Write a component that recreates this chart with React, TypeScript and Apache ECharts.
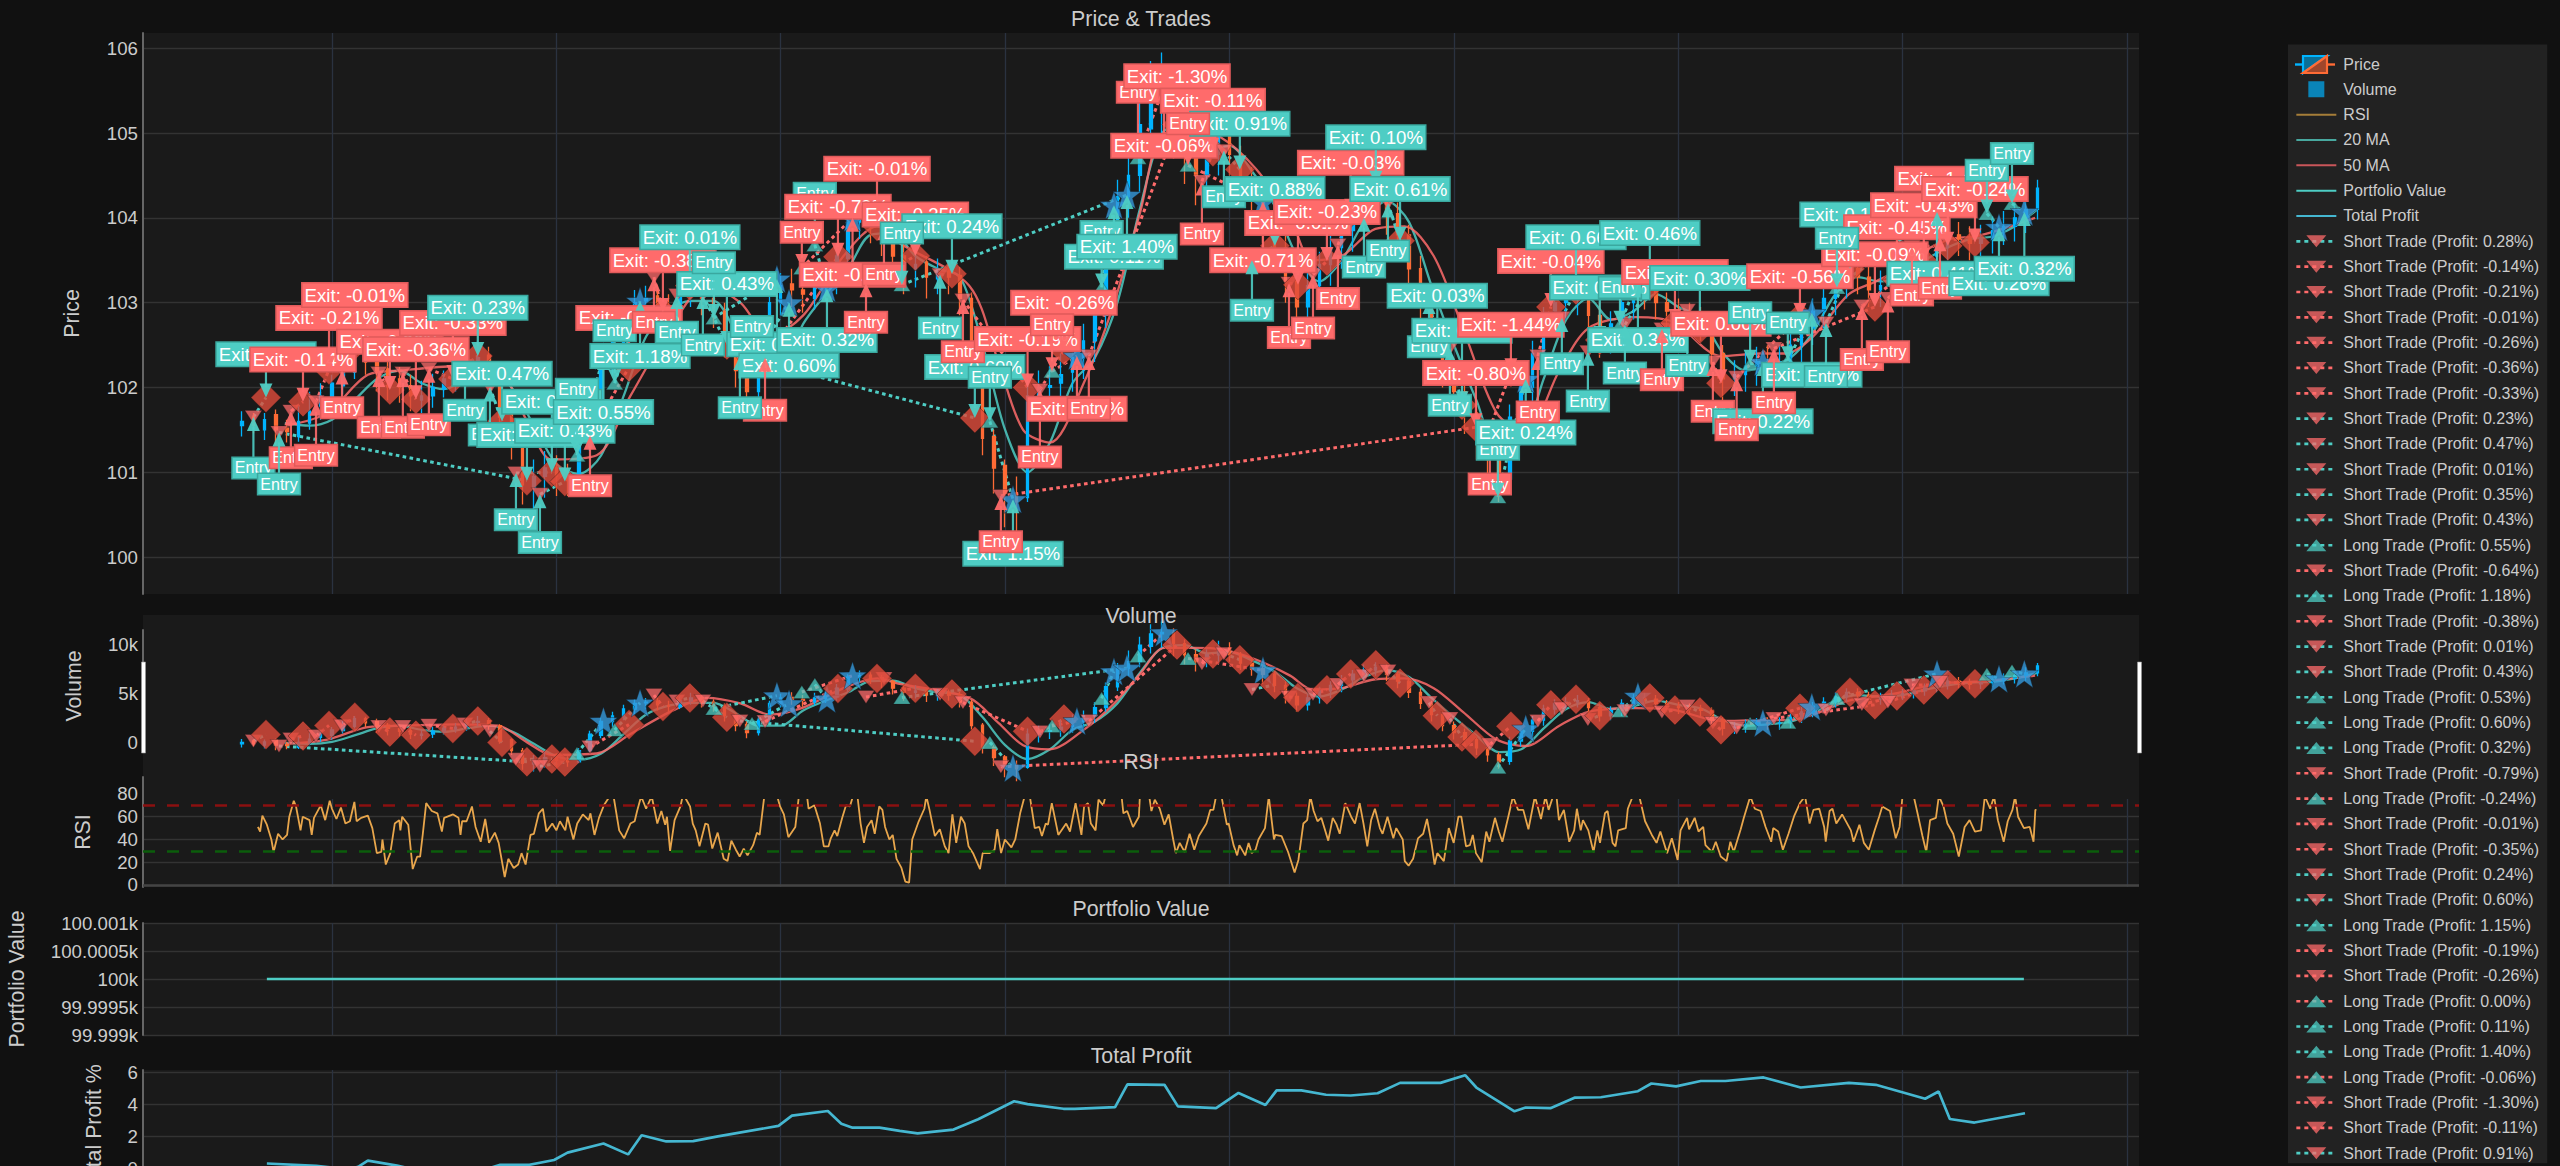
import React, { useEffect, useRef } from "react";
import * as echarts from "echarts";

const FONT = "Liberation Sans";
const TEAL = "#4ecdc4";
const RED = "#ff6b6b";

const xTicks = [0, 100, 200, 300, 400, 500, 600, 700, 800];
const priceTicks = [100, 101, 102, 103, 104, 105, 106];
const rsiTicks = [0, 20, 40, 60, 80];
const portfolioTicks = [99999, 99999.5, 100000, 100000.5, 100001];
const profitTicks = [0, 2, 4, 6];

// x (bar), open, close, low, high
const candles: number[][] = [
[-40,101.55,101.6,101.42,101.72],[-35,101.65,101.55,101.46,101.7],[-30,101.5,101.62,101.38,101.7],[-25,101.68,101.5,101.32,101.74],[-20,101.52,101.48,101.35,101.62],
[-15,101.42,101.6,101.36,101.78],[-10,101.58,101.72,101.5,101.95],[-5,101.78,101.9,101.62,102.05],[0,101.85,102.05,101.7,102.15],[5,102.02,102.2,101.92,102.36],
[10,102.18,102.45,102.1,102.55],[15,102.45,102.3,102.15,102.52],[20,102.35,102.2,101.95,102.45],[25,102.22,102.1,101.85,102.3],[30,102.1,102.0,101.82,102.24],
[35,102.02,101.9,101.72,102.15],[40,101.85,101.9,101.7,102.08],[45,101.9,102.0,101.76,102.16],[50,101.98,102.1,101.88,102.2],[55,102.08,102.15,101.95,102.3],
[60,102.12,102.3,102.02,102.45],[65,102.32,102.35,102.2,102.55],[70,102.38,102.2,102.05,102.48],[75,102.2,101.65,101.55,102.25],[80,101.7,101.3,101.15,101.75],
[85,101.3,100.85,100.62,101.4],[90,100.82,100.95,100.55,101.15],[95,100.95,101.05,100.7,101.25],[100,101.05,100.95,100.72,101.2],[105,100.95,100.9,100.72,101.1],
[110,100.9,101.3,100.85,101.4],[115,101.3,101.9,101.25,102.02],[120,101.85,102.35,101.75,102.48],[125,102.35,102.55,102.15,102.7],[130,102.52,102.8,102.4,102.95],
[135,102.8,103.0,102.6,103.15],[140,103.02,103.05,102.8,103.2],[145,103.08,102.95,102.75,103.2],[150,102.92,102.9,102.7,103.1],[155,102.88,103.1,102.8,103.25],
[160,103.08,103.2,102.95,103.38],[165,103.22,103.05,102.85,103.3],[170,103.05,102.9,102.7,103.15],[175,102.9,102.55,102.35,103.0],[180,102.55,102.2,102.0,102.65],
[185,102.25,101.95,101.75,102.35],[190,101.95,102.4,101.85,102.55],[195,102.42,103.0,102.3,103.1],[200,103.0,103.2,102.85,103.35],[205,103.22,103.15,102.95,103.4],
[210,103.15,103.1,102.88,103.3],[215,103.05,103.2,102.92,103.38],[220,103.18,103.2,103.02,103.42],[225,103.22,103.55,103.1,103.7],[230,103.52,103.95,103.4,104.05],
[235,103.95,104.0,103.75,104.18],[240,104.02,103.9,103.7,104.12],[245,103.92,103.8,103.55,104.02],[250,103.8,103.55,103.32,103.85],[255,103.55,103.4,103.1,103.7],
[260,103.4,103.45,103.18,103.65],[265,103.48,103.3,103.05,103.55],[270,103.28,103.35,103.1,103.52],[275,103.38,103.3,103.1,103.5],[280,103.32,103.05,102.85,103.42],
[285,103.05,102.2,102.05,103.12],[290,102.22,101.4,101.2,102.3],[295,101.42,101.05,100.75,101.5],[300,101.08,100.75,100.35,101.15],[305,100.72,100.65,100.2,100.95],
[310,100.7,101.9,100.65,102.1],[315,101.9,102.0,101.6,102.2],[320,102.0,102.02,101.72,102.25],[325,102.05,102.15,101.8,102.4],[330,102.18,102.35,101.95,102.6],
[335,102.35,102.55,102.1,102.75],[340,102.55,102.85,102.3,103.05],[345,102.85,103.6,102.7,103.75],[350,103.6,104.25,103.45,104.45],[355,104.25,104.5,104.0,104.9],
[360,104.5,105.1,104.3,105.4],[365,105.05,105.5,104.8,105.85],[370,105.5,105.55,105.0,105.95],[375,105.55,105.15,104.7,105.7],[380,105.15,104.75,104.4,105.3],
[385,104.75,104.5,104.15,104.95],[390,104.5,104.75,104.3,104.95],[395,104.75,105.0,104.5,105.25],[400,105.0,104.75,104.5,105.2],[405,104.75,104.45,104.2,104.85],
[410,104.45,104.25,104.0,104.6],[415,104.25,104.05,103.7,104.4],[420,104.05,103.65,103.4,104.15],[425,103.65,103.25,103.0,103.8],[430,103.25,102.95,102.7,103.4],
[435,102.95,103.2,102.75,103.35],[440,103.2,103.45,103.0,103.6],[445,103.45,103.65,103.2,103.8],[450,103.65,103.85,103.4,104.02],[455,103.85,104.05,103.6,104.2],
[460,104.05,104.2,103.85,104.4],[465,104.2,104.3,104.0,104.48],[470,104.3,104.05,103.8,104.42],[475,104.05,103.8,103.55,104.18],[480,103.8,103.4,103.2,103.92],
[485,103.4,103.0,102.8,103.55],[490,103.0,102.6,102.35,103.1],[495,102.6,102.2,102.0,102.72],[500,102.2,101.95,101.7,102.35],[505,101.95,101.7,101.45,102.1],
[510,101.7,101.4,101.15,101.85],[515,101.4,101.15,100.9,101.5],[520,101.15,100.9,100.65,101.25],[525,100.92,101.65,100.8,101.8],[530,101.65,102.0,101.45,102.15],
[535,102.0,102.4,101.8,102.55],[540,102.4,102.8,102.2,102.95],[545,102.8,103.0,102.6,103.15],[550,103.0,103.05,102.8,103.22],[555,103.05,103.1,102.85,103.3],
[560,103.1,102.85,102.6,103.2],[565,102.85,102.55,102.35,103.0],[570,102.55,102.75,102.4,102.9],[575,102.75,103.0,102.55,103.15],[580,103.0,103.2,102.8,103.35],
[585,103.2,103.15,102.92,103.38],[590,103.15,103.0,102.8,103.3],[595,103.0,102.9,102.7,103.12],[600,102.9,102.85,102.62,103.05],[605,102.85,102.8,102.6,103.0],
[610,102.8,102.75,102.55,102.95],[615,102.75,102.4,102.2,102.85],[620,102.4,102.1,101.85,102.5],[625,102.1,102.15,101.9,102.32],[630,102.15,102.25,101.95,102.42],
[635,102.25,102.3,102.02,102.48],[640,102.3,102.28,102.05,102.5],[645,102.28,102.3,102.05,102.5],[650,102.3,102.5,102.12,102.65],[655,102.5,102.7,102.3,102.88],
[660,102.7,102.9,102.5,103.05],[665,102.9,103.05,102.7,103.22],[670,103.05,103.25,102.85,103.4],[675,103.25,103.4,103.05,103.55],[680,103.4,103.3,103.1,103.55],
[685,103.3,103.15,102.95,103.42],[690,103.15,103.2,102.95,103.38],[695,103.2,103.3,103.02,103.48],[700,103.3,103.35,103.12,103.52],[705,103.35,103.45,103.18,103.62],
[710,103.45,103.55,103.28,103.72],[715,103.55,103.65,103.4,103.82],[720,103.65,103.8,103.5,103.95],[725,103.8,103.75,103.55,103.95],[730,103.75,103.7,103.5,103.9],
[735,103.7,103.75,103.52,103.92],[740,103.75,103.85,103.58,104.02],[745,103.85,103.9,103.68,104.08],[750,103.9,104.0,103.72,104.15],[755,104.0,104.1,103.82,104.3],
[760,104.1,104.35,103.98,104.45],
];

const ma20: number[][] = [
[-21,101.58],[-10,101.55],[0,101.62],[10,101.85],[20,102.1],[30,102.2],[40,102.05],[50,101.98],[60,102.1],[70,102.2],[80,102.0],[90,101.55],[100,101.1],[110,100.98],[120,101.2],[130,101.9],[140,102.6],[150,102.92],[160,103.02],[170,103.02],[180,102.65],[190,102.2],[200,102.2],[210,102.75],[220,103.1],[230,103.4],[240,103.8],[250,103.82],[260,103.55],[270,103.4],[280,103.3],[290,102.5],[300,101.5],[310,101.0],[320,101.35],[330,102.05],[340,102.35],[350,103.0],[360,104.1],[370,105.0],[380,105.1],[390,104.8],[400,104.85],[410,104.55],[420,104.15],[430,103.55],[440,103.25],[450,103.5],[460,103.95],[470,104.2],[480,103.95],[490,103.2],[500,102.5],[510,101.85],[520,101.25],[530,101.35],[540,102.1],[550,102.8],[560,103.05],[570,102.8],[580,102.9],[590,103.1],[600,102.95],[610,102.82],[620,102.4],[630,102.2],[640,102.25],[650,102.35],[660,102.65],[670,103.1],[680,103.3],[690,103.25],[700,103.3],[710,103.5],[720,103.65],[730,103.75],[740,103.78],[750,103.9],[760,104.1],
];

const ma50: number[][] = [
[-20,101.55],[-2,101.7],[16,102.15],[31,102.2],[55,102.25],[74,102.2],[87,101.6],[98,101.15],[118,101.2],[133,101.9],[152,102.75],[167,103.2],[182,103.0],[195,102.6],[210,102.85],[228,103.55],[243,103.9],[253,103.7],[284,103.2],[297,102.3],[308,101.5],[320,101.35],[335,102.05],[348,102.95],[360,104.05],[371,105.0],[384,105.0],[396,104.95],[412,104.57],[427,104.0],[437,103.5],[450,103.55],[465,103.87],[478,103.9],[491,103.55],[504,102.7],[519,101.7],[532,101.47],[547,102.2],[560,102.7],[581,102.83],[598,102.77],[619,102.37],[637,102.4],[648,102.4],[660,102.6],[676,103.1],[688,103.25],[699,103.4],[709,103.6],[721,103.75],[732,103.78],[742,103.85],[759,104.0],
];

// bar, RSI
const rsi: number[][] = [
[-33,51],[-32,47],[-31,61],[-29,53],[-27,40],[-26,29],[-24,45],[-22,40],[-20,44],[-19,60],[-17,74],[-16,69],[-14,48],[-13,60],[-10,57],[-9,44],[-8,59],[-5,70],[-3,57],[-1,74],[0,67],[2,58],[4,68],[6,54],[8,56],[10,73],[11,56],[13,59],[16,61],[18,50],[20,28],[22,29],[22.5,40],[24,18],[26,28],[28,54],[30,57],[30.5,48],[31.3,60],[34,53],[36,14],[38,25],[39.3,25],[40.5,45],[42,72],[44.5,65],[47,63],[49,47],[50,59],[54,62],[56.4,59],[57.3,44],[58,56],[60,56],[62.4,69],[64,51],[66.3,38],[68.3,58],[70,37],[72.6,46],[74.3,37],[77,7],[78.6,23],[81,15],[83,18],[84.5,28],[86.3,18],[88.5,44],[90,45],[92.2,63],[94,67],[95.6,47],[98.2,54],[100,48],[101.6,56],[104,48],[105,60],[107.6,40],[109.3,54],[111.8,62],[114.4,57],[115.2,63],[117,44],[119,59],[121.2,70],[123.8,78],[125.5,78],[128,48],[130.2,41],[133,54],[134.9,56],[136,65],[137.8,78],[140,67],[142.5,78],[145,54],[146.8,65],[148.5,53],[149.3,60],[150.7,30],[152.7,57],[155.3,69],[156.5,80],[159.6,69],[160.8,54],[162.1,48],[163.8,34],[166.4,54],[167.6,53],[169.5,32],[171.9,46],[174.6,23],[176.3,21],[178,39],[180,31],[181.7,25],[183.5,32],[185.2,26],[187.7,35],[189.4,46],[190.6,44],[192.8,80],[194,84],[197,88],[199.7,69],[201.4,62],[203.4,42],[206.5,51],[208.2,80],[210.2,82],[211.6,80],[212.4,67],[215,70],[217.5,54],[219.2,34],[221.3,34],[222.3,41],[224,48],[225.2,43],[227.4,59],[229.1,70],
[230.8,69],[232.2,78],[234.2,78],[235.6,54],[237.1,37],[238.5,51],[240.5,57],[241.9,45],[243.9,69],[245.3,66],[246.5,51],[248.4,40],[249.9,44],[251.6,23],[253.8,15],[255.5,3],[257.2,2],[258.6,40],[261.5,56],[264,67],[264.9,78],[266.3,66],[268.7,43],[270.9,49],[273.1,34],[274.8,28],[276.5,62],[278.2,37],[280.3,60],[282,54],[283.7,34],[285.7,28],[288.8,14],[290,28],[293,28],[295.3,31],[296.5,49],[298.2,28],[299.9,40],[302.8,33],[304.5,40],[306.7,63],[308.7,78],[311,78],[313.2,50],[315.2,51],[316.4,43],[318.1,54],[319.1,53],[320.8,72],[323.7,44],[327.2,54],[328.9,47],[331.4,72],[334,44],[335.2,69],[336.9,72],[338.2,54],[340.3,48],[341.6,75],[343.7,70],[345,80],[348.5,85],[351.9,78],[352.7,63],[354.4,65],[357,51],[359.6,60],[360.1,80],[362.1,88],[364.2,78],[365.2,65],[366.7,75],[368.9,67],[371,53],[372.9,62],[374.9,40],[376.1,28],[377.8,37],[380,29],[382.2,45],[384.3,31],[386.3,43],[389.7,54],[391.4,66],[392.8,66],[394.2,80],[396.2,80],[398.8,53],[399.6,54],[401.8,35],[403.4,26],[404.4,35],[407,26],[408.5,37],[409.9,28],[411.6,31],[412.9,40],[415.8,50],[417.5,78],[419.8,40],[420.4,44],[423.2,43],[426.1,29],[429,11],[430.7,22],[432.9,54],[434.6,57],[436,78],[437.5,65],[439.2,56],[440.9,59],[444,39],[446,59],[447.7,53],[449.1,45],[451.6,72],[454.2,60],[455.9,54],[458,72],[459.7,54],[461.4,34],[463.1,57],[464.8,67],[467,50],[468.2,45],[470.4,60],[473,41],[474.3,50],[477.2,40],[478.1,21],[479.8,17],[481.8,23],[484,41],[486.3,45],[488,58],[490,37],[491.4,18],[492.6,28],[495.5,21],[497.7,50],
[499.9,37],[502,60],[503.3,60],[505.4,34],[507.1,35],[508.4,44],[509.8,28],[512.4,20],[514.4,47],[515.8,38],[518.3,59],[520,47],[521.6,38],[524.6,63],[526.3,78],[528.6,66],[530.9,66],[533.2,49],[536.1,78],[538.8,58],[540.8,78],[542.2,66],[544.2,78],[545.6,80],[546.8,57],[549,66],[551.4,38],[553.6,48],[554.8,67],[556.5,48],[557.5,57],[559.9,48],[562.2,29],[563.9,48],[565.1,37],[567.3,63],[568.5,65],[570.7,37],[572,34],[573.2,48],[576.6,50],[577.5,67],[579.7,78],[582.6,78],[585.2,56],[588.2,44],[590.3,37],[592,47],[595,28],[597.1,41],[599.7,22],[601,48],[603.9,59],[604.8,49],[607.3,59],[609,47],[611.1,51],[612.1,35],[615,29],[616.7,38],[618.9,25],[621.5,21],[623.2,38],[624.7,29],[627.8,49],[629.2,59],[632.1,78],[634.1,67],[636.7,65],[638.9,51],[641.4,38],[642.3,50],[644.5,47],[646.6,31],[649.1,45],[651.7,61],[654.2,72],[656.5,78],[658.5,54],[660.2,66],[662.8,67],[665,51],[665.7,38],[667.4,65],[668.7,67],[670.4,54],[673,62],[676.9,48],[678.1,38],[680.7,53],[682.7,37],[684.9,31],[687.5,48],[689.5,60],[690.9,69],[694.3,65],[696.9,41],[698.6,51],[699.9,78],[702.3,90],[704.9,78],[706.6,63],[708.8,43],[710.5,29],[712.2,57],[714.8,59],[716.1,78],[718.2,69],[719.9,54],[722.5,45],[725,25],[727.6,51],[729.8,57],[732.2,47],[734.9,48],[736.6,78],[739,67],[740.7,78],[742.4,57],[745,38],[746.8,56],[748.9,66],[750.1,78],[751.4,60],[754,50],[756.6,51],[758.3,38],[759.1,66],[759.6,66],
];

const portfolioRange = [-29, 754];
const portfolioValue = 100000;

const totalProfit: number[][] = [
[-29,0.28],[-7,0.14],[8,-0.1],[12,0.1],[16,0.46],[29,0.15],[36,-0.07],[48,-0.3],[60,-0.5],[68,-0.1],[75,0.2],[88,0.2],[99,0.5],[105,0.96],[121,1.53],[132,0.85],[138,2.05],[149,1.66],[161,1.68],[172,1.98],[199,2.63],[205,3.27],[221,3.56],[227,2.77],[232,2.52],[244,2.52],[253,2.32],[261,2.16],[277,2.4],[288,3.05],[304,4.17],[310,3.99],[326,3.7],[331,3.7],[349,3.8],[354.5,5.23],[371,5.2],[377,3.85],[394,3.74],[404,4.69],[416,3.94],[421,4.85],[432,4.85],[443,4.58],[454,4.53],[466,4.67],[476,5.32],[494,5.32],[505,5.8],[510,5.03],[527,3.54],[532,3.78],[543,3.74],[554,4.4],[565.5,4.42],[582,4.8],[588,5.28],[599,5.1],[610,5.44],[621,5.44],[638,5.66],[654.5,5.03],[676,5.32],[688,5.2],[710,4.33],[716,4.78],[721,3.06],[732,2.84],[754.5,3.42],
];

// side, profit %, entry bar, entry price, entry label price, exit bar, exit price, exit label price
const trades: any[][] = [
["S",0.28,-35,101.65,101.05,-29.4,101.88,102.39],["S",-0.14,-18.3,101.72,101.17,-12.9,101.83,102.33],["S",-0.21,-7.1,101.83,101.2,-1.3,102.21,102.82],["S",-0.01,4.5,102.2,101.76,10.2,102.5,103.09],
["S",-0.26,20.9,102.17,101.53,25.8,101.97,102.54],["S",-0.36,31.6,102.17,101.53,37.4,101.86,102.45],["S",-0.33,43.2,102.22,101.56,53.9,102.1,102.76],["S",0.23,59.3,102.26,101.73,65,102.37,102.94],
["S",0.47,70.4,102.0,101.44,75.8,101.6,102.16],["S",0.01,-23.6,101.47,100.86,86.9,100.9,101.44],["S",0.35,82,100.99,100.44,98,101.0,101.83],["S",0.43,92.7,100.74,100.17,103.8,100.89,101.49],
["L",0.55,109.2,101.2,101.98,121,102.37,101.71],["S",-0.64,115,101.43,100.84,132.4,102.24,102.82],["L",1.18,126,102.05,102.67,137.3,103.02,102.37],["S",-0.38,143.5,103.3,102.77,147.5,102.89,103.5],
["S",0.01,153.7,103.09,102.65,159.5,103.2,103.77],["S",0.43,165.3,103.09,102.5,176,102.5,103.22],["L",0.53,170.2,102.82,103.47,198.3,103.28,102.51],["L",0.6,187.2,102.28,102.72,203.7,103.0,102.26],
["L",0.32,215.2,103.68,104.29,220.6,103.17,102.56],["S",-0.79,193,102.35,101.73,225.5,103.54,104.13],["L",-0.24,209.4,103.41,103.83,232,104.0,103.33],["S",-0.01,246,103.9,103.33,242.9,103.9,104.58],
["S",-0.35,238,103.23,102.77,260,103.55,104.04],["S",0.24,271,103.33,102.7,276.3,103.34,103.9],["S",0.6,181.8,102.37,101.76,286.5,101.64,102.24],["L",1.15,293.2,101.6,102.12,303.5,100.68,100.04],
["S",-0.19,281.2,103.03,102.42,310,102.0,102.57],["S",-0.26,315.5,101.97,101.18,326.2,102.44,103.0],["L",0.0,320.9,102.19,102.74,332,102.37,101.75],["L",0.11,343,103.18,103.84,348.5,104.15,103.54],
["L",1.4,254,103.21,103.82,354.3,104.27,103.66],["L",-0.06,359.2,104.71,105.48,370.8,105.55,104.85],["S",-1.3,337.3,102.37,101.75,376.6,105.1,105.67],["S",-0.11,387.7,104.43,103.81,392.6,104.78,105.38],
["S",0.91,397.5,104.79,104.25,404.6,104.57,105.11],["L",-0.71,381.5,104.62,105.11,414.9,104.19,103.5],["S",0.88,410,103.5,102.91,420.2,103.67,104.34],["S",-0.01,426.5,103.23,102.59,430.5,103.21,103.94],
["S",-0.23,437.2,103.33,102.7,443.4,103.49,104.07],["S",-0.03,448.3,103.68,103.05,454,104.06,104.65],["S",0.1,459.9,104.0,103.42,465.2,104.39,104.95],["S",0.61,470.6,104.17,103.61,476,103.73,104.34],
["S",0.03,488.9,103.03,102.48,492.6,102.56,103.08],["S",0.63,498.2,102.46,101.79,503.6,101.79,102.67],["S",-0.8,298.1,100.72,100.18,509.8,101.53,102.17],["S",-1.44,516,101.52,100.86,525.4,102.18,102.74],
["L",0.24,519.6,100.71,101.27,532,102.1,101.47],["S",-0.04,537.4,102.37,101.71,543.2,102.95,103.49],["S",0.66,548.1,102.82,102.28,554.4,103.15,103.77],["S",0.28,559.7,102.42,101.84,565,102.56,103.18],
["L",0.36,574,102.74,103.18,582,103.27,102.56],["S",0.46,576.2,102.74,102.17,587.3,103.2,103.82],["S",-0.06,592.7,102.69,102.09,598.5,102.76,103.36],["S",0.3,604,102.91,102.26,609.6,102.69,103.29],
["S",0.0,615.4,102.3,101.72,619,102.05,102.75],["L",0.22,632,102.28,102.88,637.7,102.3,101.6],["S",-0.56,626,102.12,101.5,654.2,102.83,103.31],["L",0.17,648.8,102.32,102.76,659.5,102.88,102.15],
["S",0.16,665.8,102.76,102.13,676.5,103.4,104.04],["S",-0.09,642.6,102.46,101.82,687.6,102.95,103.57],["S",-0.45,681.8,102.96,102.33,697.4,103.27,103.89],["S",-0.43,693.4,103.05,102.42,709.4,103.48,104.15],
["L",0.41,670.7,103.18,103.76,715.3,104.07,103.34],["S",-1.43,704.1,103.66,103.09,720.1,103.67,104.46],["S",-0.24,716.6,103.77,103.17,732.2,103.71,104.34],["L",0.26,737.5,104.05,104.56,742.9,103.89,103.23],
["L",0.32,748.7,104.17,104.76,754.2,104.07,103.4],
];
const legendTradeCount = 37;

const panelTitles: [string, number][] = [["Price & Trades", 19], ["Volume", 616], ["RSI", 762], ["Portfolio Value", 909], ["Total Profit", 1055.5]];

const LEG_DOWN = "path://M0,4L20,4L10,16ZM0,0L0,0ZM0,20L0,20Z";
const LEG_UP = "path://M0,16L20,16L10,4ZM0,0L0,0ZM0,20L0,20Z";
const MARK_DOWN = "path://M0,0L20,0L10,16Z";
const MARK_UP = "path://M0,16L20,16L10,0Z";
const DIAMOND = "path://M10,0L20,10L10,20L0,10Z";
const STAR = "path://M10,0L12.35,6.76L19.51,6.91L13.8,11.24L15.88,18.09L10,14L4.12,18.09L6.2,11.24L0.49,6.91L7.65,6.76Z";
const ICON_LINE = "path://M0,0L0,0ZM0,20L0,20ZM0,9L40,9L40,11L0,11Z";
const ICON_SQUARE = "path://M0,0L0,0ZM40,20L40,20ZM12,2L28,2L28,18L12,18Z";
const ICON_BLANK = "path://M0,0L40,0L40,20L0,20Z";

function tradeColor(p: number) { return p > 0 ? TEAL : RED; }
function tradeLabel(t: any[]) { return `${t[0] === "L" ? "Long" : "Short"} Trade (Profit: ${t[1].toFixed(2)}%)`; }

function tradeSeries(t: any[], name: string, xIdx: number, yIdx: number) {
  const long = t[0] === "L";
  const triColor = long ? TEAL : RED;
  const triStyle = { color: triColor, opacity: 0.75, borderColor: "rgba(20,20,20,0.35)", borderWidth: 1 };
  return {
    type: "line", name, xAxisIndex: xIdx, yAxisIndex: yIdx, z: 3, silent: true,
    symbol: long ? LEG_UP : LEG_DOWN, symbolSize: 20, showSymbol: true, showAllSymbol: true,
    itemStyle: { color: triColor, opacity: 0.75 },
    lineStyle: { color: tradeColor(t[1]), type: [3.6, 3.4], width: 3 },
    data: [
      { value: [t[2], t[3]], symbol: long ? MARK_UP : MARK_DOWN, symbolSize: [17, 13], itemStyle: triStyle },
      long
        ? { value: [t[5], t[6]], symbol: STAR, symbolSize: 28, itemStyle: { color: "#3498db", opacity: 0.8, borderColor: "rgba(20,30,40,0.5)", borderWidth: 1 } }
        : { value: [t[5], t[6]], symbol: DIAMOND, symbolSize: 30, itemStyle: { color: "#df4b3b", opacity: 0.8, borderColor: "rgba(30,15,15,0.5)", borderWidth: 1 } },
    ],
  };
}

function priceSeriesSet(xIdx: number, yIdx: number, names: boolean) {
  return [
    {
      type: "candlestick", name: names ? "Price" : "thumbPrice", xAxisIndex: xIdx, yAxisIndex: yIdx, z: 3, silent: true, barWidth: 3,
      itemStyle: { color: "#00b4ff", color0: "#ff6b35", borderColor: "#00b4ff", borderColor0: "#ff6b35", borderWidth: 1.3 },
      data: candles,
    },
    { type: "line", name: names ? "20 MA" : "thumb20", xAxisIndex: xIdx, yAxisIndex: yIdx, z: 3, silent: true, symbol: "none", smooth: 0.3, lineStyle: { color: TEAL, width: 2.3, opacity: 0.85 }, data: ma20 },
    { type: "line", name: names ? "50 MA" : "thumb50", xAxisIndex: xIdx, yAxisIndex: yIdx, z: 3, silent: true, symbol: "none", smooth: 0.3, lineStyle: { color: RED, width: 2.3, opacity: 0.85 }, data: ma50 },
  ];
}

const annotations: { x: number; y: number; ly: number; text: string; color: string; big: boolean }[] = [];
trades.forEach((t) => {
  const c = tradeColor(t[1]);
  annotations.push({ x: t[2], y: t[3], ly: t[4], text: "Entry", color: c, big: false });
  annotations.push({ x: t[5], y: t[6], ly: t[7], text: `Exit: ${t[1].toFixed(2)}%`, color: c, big: true });
});

function renderAnnotation(params: any, api: any) {
  const a = annotations[params.dataIndex];
  const tip = api.coord([a.x, a.y]);
  const lab = api.coord([a.x, a.ly]);
  const dir = lab[1] > tip[1] ? 1 : -1;
  const border = a.color === TEAL ? "#3aa89f" : "#e05a5a";
  return {
    type: "group",
    children: [
      { type: "line", shape: { x1: tip[0], y1: tip[1] + dir * 10, x2: lab[0], y2: lab[1] }, style: { stroke: a.color, lineWidth: 2.2, opacity: 0.9 } },
      { type: "polygon", shape: { points: [[tip[0], tip[1]], [tip[0] - 6.5, tip[1] + dir * 14], [tip[0] + 6.5, tip[1] + dir * 14]] }, style: { fill: a.color, opacity: 0.95 } },
      {
        type: "text", x: lab[0], y: lab[1],
        style: {
          text: a.text, fill: "#ffffff", font: `${a.big ? 18.67 : 16}px "${FONT}"`, align: "center", verticalAlign: "middle",
          backgroundColor: a.color, borderColor: border, borderWidth: 1.5, padding: [2, 2],
        },
      },
    ],
  };
}

export default function App() {
  const ref = useRef<HTMLDivElement>(null);
  useEffect(() => {
    document.body.style.margin = "0";
    document.body.style.background = "#111111";
    const chart = echarts.init(ref.current!, undefined, { renderer: "svg" });
    const left = 143, width = 1996;
    const bg = "#1a1a1a";
    const xBase = (grid: number, split: boolean) => ({
      type: "value", gridIndex: grid, min: -84.2, max: 805.3, show: true,
      axisLine: { show: false }, axisLabel: { show: false },
      axisTick: { show: false, customValues: xTicks },
      splitLine: { show: split, lineStyle: { color: "#2a3240", width: 1.33 } },
    });
    const yBase = (grid: number, name: string, gap: number, ticks: number[] | null, extra: any = {}) => ({
      type: "value", gridIndex: grid, name, nameLocation: "middle", nameGap: gap,
      nameTextStyle: { color: "#cccccc", fontSize: 21.33, fontFamily: FONT },
      axisLine: { show: true, onZero: false, lineStyle: { color: "#666666", width: 2 } },
      axisTick: { show: false, ...(ticks ? { customValues: ticks } : {}) },
      axisLabel: { color: "#cccccc", fontSize: 18.67, fontFamily: FONT, margin: 5, ...(ticks ? { customValues: ticks } : {}), ...(extra.label || {}) },
      splitLine: { show: true, lineStyle: { color: "#333333", width: 1.33 } },
      ...extra.axis,
    });

    const legendData: any[] = [
      { name: "Price", icon: ICON_BLANK, itemStyle: { color: "transparent", borderWidth: 0 } },
      { name: "Volume", icon: ICON_SQUARE, itemStyle: { color: "#0a84b8", borderWidth: 0 } },
      { name: "RSI", icon: ICON_LINE, itemStyle: { color: "#a57d38", borderWidth: 0 } },
      { name: "20 MA", icon: ICON_LINE, itemStyle: { color: "#48a89f", borderWidth: 0 } },
      { name: "50 MA", icon: ICON_LINE, itemStyle: { color: "#c9565a", borderWidth: 0 } },
      { name: "Portfolio Value", icon: ICON_LINE, itemStyle: { color: TEAL, borderWidth: 0 } },
      { name: "Total Profit", icon: ICON_LINE, itemStyle: { color: "#45b7d1", borderWidth: 0 } },
      ...trades.slice(0, legendTradeCount).map((t, i) => ({
        name: `trade${i}`,
        itemStyle: { color: t[0] === "L" ? TEAL : RED, opacity: 0.75, borderWidth: 0 },
        lineStyle: { color: tradeColor(t[1]), type: [4, 4], width: 2.67 },
      })),
    ];
    const legendNames: Record<string, string> = {};
    trades.forEach((t, i) => { legendNames[`trade${i}`] = tradeLabel(t); });

    const gridBase = { left, width, outerBoundsMode: "none", containLabel: false };
    const option: any = {
      animation: false,
      backgroundColor: "#111111",
      textStyle: { fontFamily: FONT },
      grid: [
        { ...gridBase, top: 33, height: 561, show: true, backgroundColor: bg, borderWidth: 0 },
        { ...gridBase, top: 615, height: 184, show: true, backgroundColor: bg, borderWidth: 0 },
        { ...gridBase, top: 630, height: 112, show: false },
        { ...gridBase, top: 777, height: 110, show: true, backgroundColor: bg, borderWidth: 0 },
        { ...gridBase, top: 923, height: 112, show: true, backgroundColor: bg, borderWidth: 0 },
        { ...gridBase, top: 1070, height: 130, show: true, backgroundColor: bg, borderWidth: 0 },
      ],
      xAxis: [xBase(0, true), xBase(1, false), xBase(2, false), xBase(3, true), xBase(4, true), xBase(5, true)],
      yAxis: [
        yBase(0, "Price", 61, priceTicks, { axis: { min: 99.564, max: 106.18 } }),
        { type: "value", gridIndex: 1, min: 99.564, max: 106.18, show: false },
        yBase(2, "Volume", 59, null, { axis: { min: 0, max: 11546, interval: 5000, splitLine: { show: false } }, label: { formatter: (v: number) => (v === 0 ? "0" : `${v / 1000}k`) } }),
        yBase(3, "RSI", 50, rsiTicks, { axis: { min: -1.76, max: 94.9 } }),
        yBase(4, "Portfolio Value", 116, portfolioTicks, { axis: { min: 99999, max: 100001 }, label: { formatter: (v: number) => `${v / 1000}k` } }),
        {
          ...yBase(5, "Total Profit %", 39, profitTicks, { axis: { min: -2, max: 6.125 } }),
          nameTextStyle: { color: "#cccccc", fontSize: 21.33, fontFamily: FONT, padding: [0, 0, 0, 16] },
        },
      ],
      legend: {
        left: 2288, top: 44.5, orient: "vertical", height: 3000, align: "left",
        padding: [9.5, 8, 0, 7], itemWidth: 40, itemHeight: 25, itemGap: 5.33,
        backgroundColor: "#222222", selectedMode: false,
        textStyle: { color: "#cccccc", fontSize: 16, fontFamily: FONT, padding: [0, 0, 0, 2] },
        formatter: (n: string) => legendNames[n] || n,
        data: legendData,
      },
      graphic: [
        { type: "rect", z: 2, silent: true, shape: { x: 144, y: 776, width: 1995, height: 23 }, style: { fill: bg } },
        { type: "rect", z: 60, silent: true, shape: { x: 141.5, y: 662, width: 4, height: 91 }, style: { fill: "#ffffff", stroke: "#999999", lineWidth: 0.6 } },
        { type: "rect", z: 60, silent: true, shape: { x: 2137.5, y: 662, width: 4, height: 91 }, style: { fill: "#ffffff", stroke: "#999999", lineWidth: 0.6 } },
        ...panelTitles.map(([text, y]) => ({
          type: "text", z: 60, silent: true, x: 1141, y,
          style: { text, fill: "#cccccc", font: `21.33px "${FONT}"`, align: "center", verticalAlign: "middle" },
        })),
        { type: "line", z: 60, silent: true, shape: { x1: 2295, y1: 64.5, x2: 2303, y2: 64.5 }, style: { stroke: "#00b4ff", lineWidth: 2.4 } },
        { type: "line", z: 60, silent: true, shape: { x1: 2327, y1: 64.5, x2: 2335, y2: 64.5 }, style: { stroke: "#ff6b35", lineWidth: 2.4 } },
        { type: "polygon", z: 60, silent: true, shape: { points: [[2303, 56], [2327, 56], [2303, 73]] }, style: { fill: "#0a6f97", stroke: "#00b4ff", lineWidth: 2.2 } },
        { type: "polygon", z: 60, silent: true, shape: { points: [[2327, 56], [2327, 73], [2303, 73]] }, style: { fill: "#a0462b", stroke: "#ff6b35", lineWidth: 2.2 } },
      ],
      series: [
        ...priceSeriesSet(0, 0, true),
        ...trades.map((t, i) => tradeSeries(t, `trade${i}`, 0, 0)),
        {
          type: "custom", name: "annotations", xAxisIndex: 0, yAxisIndex: 0, z: 6, silent: true, clip: false,
          renderItem: renderAnnotation, encode: { x: 0, y: 1 },
          data: annotations.map((a) => [a.x, a.y]),
        },
        ...priceSeriesSet(1, 1, false),
        ...trades.map((t, i) => tradeSeries(t, `thumb${i}`, 1, 1)),
        { type: "bar", name: "Volume", xAxisIndex: 2, yAxisIndex: 2, data: [] },
        {
          type: "line", name: "RSI", xAxisIndex: 3, yAxisIndex: 3, z: 1, silent: true, symbol: "none",
          lineStyle: { color: "#e8a64c", width: 1.8 },
          data: rsi,
          markLine: {
            silent: true, symbol: "none", label: { show: false }, animation: false,
            data: [
              { yAxis: 70, lineStyle: { color: "#8b1010", type: [12, 12], width: 2.67 } },
              { yAxis: 30, lineStyle: { color: "#0b5d0b", type: [12, 12], width: 2.67 } },
              { yAxis: 0, lineStyle: { color: "#444444", type: "solid", width: 2.6 } },
            ],
          },
        },
        {
          type: "line", name: "Portfolio Value", xAxisIndex: 4, yAxisIndex: 4, silent: true, symbol: "none",
          lineStyle: { color: TEAL, width: 2.67 },
          data: portfolioRange.map((x) => [x, portfolioValue]),
        },
        {
          type: "line", name: "Total Profit", xAxisIndex: 5, yAxisIndex: 5, silent: true, symbol: "none",
          lineStyle: { color: "#45b7d1", width: 2.67 },
          data: totalProfit,
        },
      ],
    };
    chart.setOption(option);
    return () => chart.dispose();
  }, []);
  return <div ref={ref} style={{ width: 2560, height: 1166, overflow: "hidden" }} />;
}
